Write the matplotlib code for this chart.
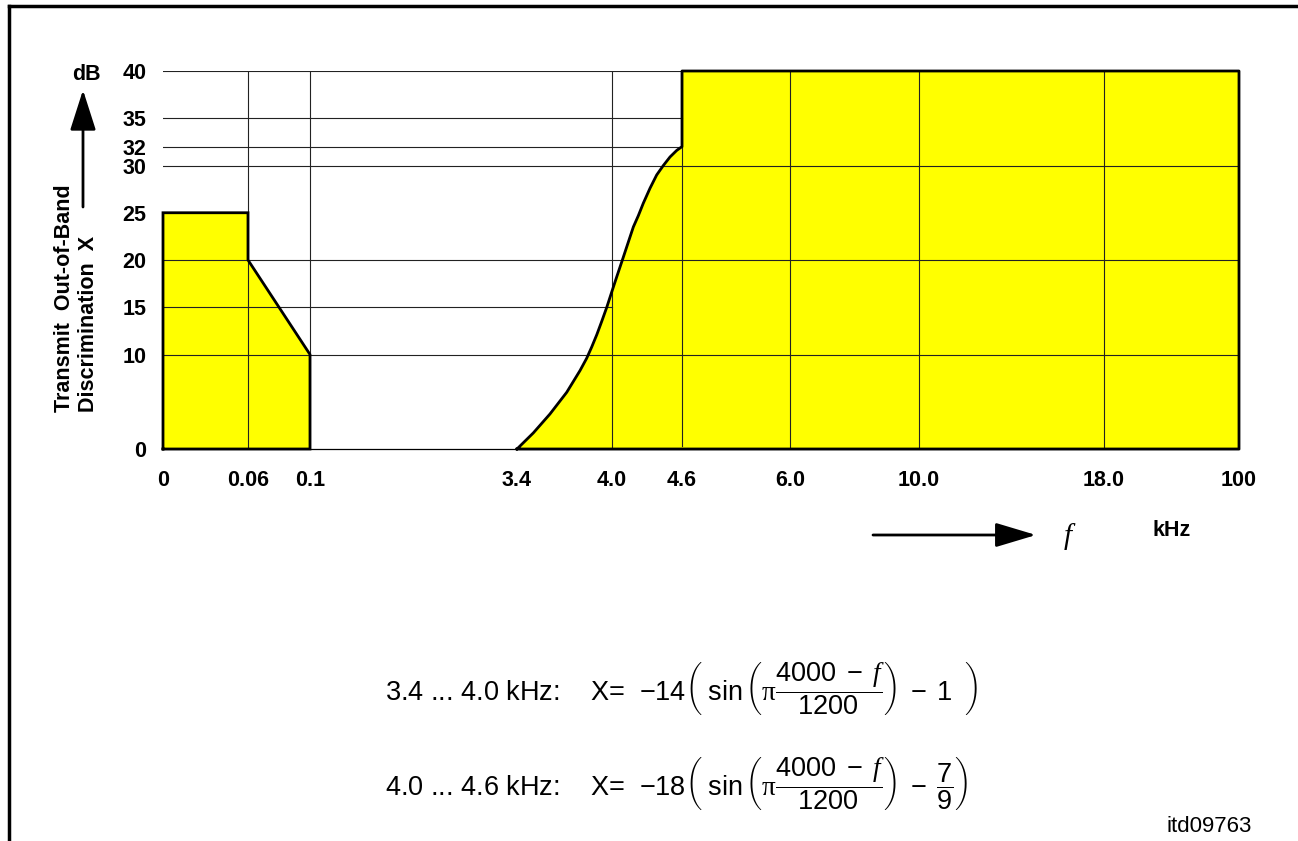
import numpy as np
import matplotlib
matplotlib.use("Agg")
import matplotlib.pyplot as plt
from matplotlib.lines import Line2D

plt.rcParams['font.family'] = ['Liberation Sans', 'DejaVu Sans']
plt.rcParams['mathtext.fontset'] = 'custom'
plt.rcParams['mathtext.rm'] = 'Liberation Sans'
plt.rcParams['mathtext.it'] = 'Liberation Serif:italic'
plt.rcParams['mathtext.sf'] = 'Liberation Sans'
plt.rcParams['mathtext.tt'] = 'Liberation Serif'

# -----------------------------
# Data
# -----------------------------
tick_freq = [0, 0.06, 0.1, 3.4, 4.0, 4.6, 6.0, 10.0, 18.0, 100]
tick_text = ["0", "0.06", "0.1", "3.4", "4.0", "4.6", "6.0", "10.0", "18.0", "100"]
y_ticks = [0, 10, 15, 20, 25, 30, 32, 35, 40]

# low band mask
low_f = [0, 0, 0.06, 0.06, 0.1, 0.1]
low_db = [0, 25, 25, 20, 10, 0]

# rising curve 3.4 ... 4.6 kHz
curve_f = [3.4, 3.503, 3.608, 3.714, 3.798, 3.840, 3.872, 3.904, 3.935, 3.967,
           3.998, 4.040, 4.097, 4.140, 4.183, 4.226, 4.268, 4.326, 4.383, 4.440,
           4.497, 4.555, 4.6]
curve_db = [0, 1.7, 3.7, 6.0, 8.3, 9.6, 10.8, 12.1, 13.5, 15.0,
            16.6, 18.2, 20.3, 21.9, 23.5, 24.7, 26.0, 27.6, 29.0, 30.0,
            30.9, 31.6, 32]

# high band mask
high_f = [4.6, 100, 100]
high_db = [40, 40, 0]

# grid segments: (level, from, to)
h_grid = [(10, 0, 100), (15, 0, 4.0), (20, 0, 100), (30, 0, 100),
          (32, 0, 4.6), (35, 0, 4.6), (40, 0, 4.6)]
v_grid = [(0.06, 0, 40), (0.1, 0, 40), (4.0, 0, 40), (4.6, 0.3, 40),
          (6.0, 0, 40), (10.0, 0, 40), (18.0, 0, 40)]

# -----------------------------
# Non-linear frequency axis
# -----------------------------
tick_pix = np.array([163, 248, 310, 517, 612, 682, 790, 919, 1104, 1239])
tick_pos = (tick_pix - 163) / (1239 - 163)

def fwd(f):
    return np.interp(f, tick_freq, tick_pos)

def inv(p):
    return np.interp(p, tick_pos, tick_freq)

W, H = 1298, 841
fig = plt.figure(figsize=(W / 100, H / 100), dpi=100)
ax = fig.add_axes([163 / W, 1 - 449 / H, (1239 - 163) / W, (449 - 71) / H])
ax.set_xscale('function', functions=(fwd, inv))
ax.set_xlim(0, 100)
ax.set_ylim(0, 40)

yellow = '#ffff00'
ax.fill(low_f, low_db, color=yellow, lw=0, zorder=1)
ax.fill(curve_f + high_f + [3.4], curve_db + high_db + [0], color=yellow, lw=0, zorder=1)

for lev, a, b in h_grid:
    ax.plot([a, b], [lev, lev], color='#222222', lw=0.8, zorder=2)
for f, a, b in v_grid:
    ax.plot([f, f], [a, b], color='#222222', lw=0.8, zorder=2)

ax.plot(low_f + [0], low_db + [0], color='k', lw=2, zorder=3,
        clip_on=False, solid_joinstyle='miter')
ax.plot(curve_f + high_f + [3.4], curve_db + high_db + [0], color='k', lw=2,
        zorder=3, clip_on=False, solid_joinstyle='round')

for s in ['top', 'left', 'right']:
    ax.spines[s].set_visible(False)
ax.spines['bottom'].set_linewidth(0.9)

ax.set_xticks(tick_freq)
ax.set_xticklabels(tick_text, fontsize=15.5, fontweight='bold')
ax.set_yticks(y_ticks)
ax.set_yticklabels([str(v) for v in y_ticks], fontsize=15.5, fontweight='bold')
ax.tick_params(axis='both', length=0)
ax.tick_params(axis='x', pad=15)
ax.tick_params(axis='y', pad=12)

def px(x, y):
    return x / W, 1 - y / H

# y-axis label (two rotated lines)
fig.text(*px(64, 412), "Transmit  Out-of-Band", rotation=90, rotation_mode='anchor',
         ha='left', va='center', fontsize=15.5, fontweight='bold')
fig.text(*px(89, 412), "Discrimination  X", rotation=90, rotation_mode='anchor',
         ha='left', va='center', fontsize=15.5, fontweight='bold')
fig.text(*px(86, 75), "dB", ha='center', va='center', fontsize=15.5, fontweight='bold')
ax.annotate("", xy=(83, H - 90), xytext=(83, H - 207), xycoords='figure pixels',
            textcoords='figure pixels',
            arrowprops=dict(arrowstyle='-|>,head_length=2.5,head_width=0.8',
                            color='k', lw=2, shrinkA=0, shrinkB=0))

# frequency arrow
ax.annotate("", xy=(1036, H - 535), xytext=(873, H - 535), xycoords='figure pixels',
            textcoords='figure pixels',
            arrowprops=dict(arrowstyle='-|>,head_length=2.5,head_width=0.75',
                            color='k', lw=2, shrinkA=0, shrinkB=0))
fig.text(*px(1068, 537), "f", ha='center', va='center', fontsize=21,
         family='Liberation Serif', style='italic')
fig.text(*px(1172, 531), "kHz", ha='center', va='center', fontsize=15.5, fontweight='bold')

# formulas
f1 = (r"3.4 ... 4.0 kHz:    X=  $-14\left(\ \sin\left(\mathtt{\pi}\dfrac{4000\ -\ f}{\ \ 1200\ \ }"
      r"\right)\ -\ 1\ \ \right)$")
f2 = (r"4.0 ... 4.6 kHz:    X=  $-18\left(\ \sin\left(\mathtt{\pi}\dfrac{4000\ -\ f}{\ \ 1200\ \ }"
      r"\right)\ -\ \dfrac{7}{9}\right)$")
fig.text(*px(385, 700), f1, ha='left', va='baseline', fontsize=19.5)
fig.text(*px(385, 795), f2, ha='left', va='baseline', fontsize=19.5)

fig.text(*px(1252, 827), "itd09763", ha='right', va='center', fontsize=16)

# page frame (top and left)
fig.add_artist(Line2D([9 / W, 1], [1 - 6 / H, 1 - 6 / H], color='k', lw=2.5))
fig.add_artist(Line2D([9 / W, 9 / W], [1 - 6 / H, 0], color='k', lw=2.5))

fig.savefig("out.png", dpi=100)
